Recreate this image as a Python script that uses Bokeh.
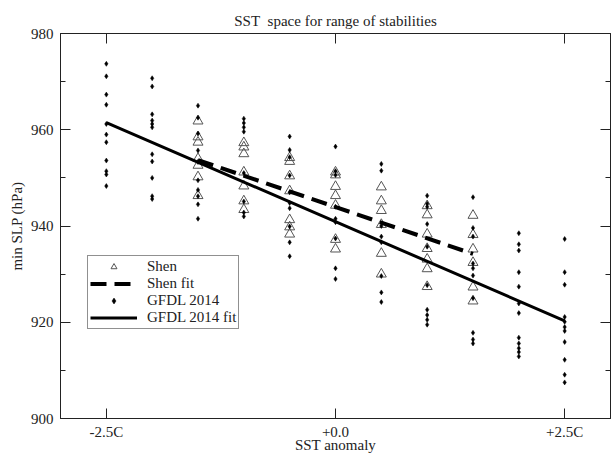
from bokeh.plotting import figure
from bokeh.models import Range1d, LinearAxis, FixedTicker, Legend, LegendItem
from bokeh.embed import file_html
from bokeh.resources import INLINE

# ---------------- data ----------------
title_text = "SST\u00a0 space for range of stabilities"
x_label = "SST anomaly"
y_label = "min SLP (hPa)"
x_tick_values = [-2.5, 0.0, 2.5]
x_tick_labels = ["-2.5C", "+0.0", "+2.5C"]
y_tick_values = [900, 920, 940, 960, 980]
y_minor_values = [910, 930, 950, 970]

# GFDL 2014 values (min SLP, hPa) per SST anomaly column
gfdl_m25 = [973.7, 971.1, 967.3, 965.2, 961.2, 959.0, 957.4, 953.6, 951.4, 950.7, 948.3]
gfdl_m20 = [970.7, 969.0, 963.2, 961.9, 961.2, 960.5, 954.9, 953.4, 950.0, 946.2, 945.6]
gfdl_m15 = [965.0, 962.5, 959.2, 955.7, 953.3, 949.5, 947.5, 946.2, 944.5, 941.5]
gfdl_m10 = [962.3, 961.4, 960.5, 959.6, 951.0, 945.1, 942.8, 942.0]
gfdl_m05 = [958.6, 955.8, 954.3, 950.5, 947.0, 944.8, 943.7, 939.9, 936.6, 933.7]
gfdl_p00 = [956.5, 951.4, 950.6, 944.0, 941.5, 940.8, 937.4, 931.2, 929.0]
gfdl_p05 = [952.9, 951.5, 940.0, 937.8, 936.6, 929.6, 926.2, 924.2]
gfdl_p10 = [946.3, 944.6, 944.0, 940.4, 935.7, 927.7, 922.6, 921.5, 920.5, 919.5]
gfdl_p15 = [946.0, 939.6, 937.8, 932.2, 931.2, 929.7, 925.0, 917.8, 916.4, 915.6]
gfdl_p20 = [938.5, 936.2, 934.9, 930.4, 927.4, 923.9, 921.9, 916.8, 915.6, 914.6, 913.8, 912.9]
gfdl_p25 = [937.3, 930.4, 927.8, 921.1, 920.1, 919.0, 918.2, 915.9, 912.2, 909.1, 907.5]

# Shen values per SST anomaly column
shen_m15 = [961.8, 958.5, 957.4, 954.0, 952.6, 950.2, 946.3]
shen_m10 = [957.3, 956.4, 955.0, 951.2, 948.3, 945.2, 943.4]
shen_m05 = [954.2, 953.4, 950.4, 947.3, 941.3, 939.8, 938.3]
shen_p00 = [951.2, 950.6, 948.2, 946.3, 944.3, 937.2, 935.2]
shen_p05 = [948.1, 945.2, 943.2, 940.3, 934.3, 930.0]
shen_p10 = [944.2, 942.3, 938.3, 935.3, 933.1, 931.1, 927.4]
shen_p15 = [942.2, 938.2, 935.2, 932.4, 927.3, 924.4]

gfdl_columns = [(-2.5, gfdl_m25), (-2.0, gfdl_m20), (-1.5, gfdl_m15), (-1.0, gfdl_m10),
                (-0.5, gfdl_m05), (0.0, gfdl_p00), (0.5, gfdl_p05), (1.0, gfdl_p10),
                (1.5, gfdl_p15), (2.0, gfdl_p20), (2.5, gfdl_p25)]
shen_columns = [(-1.5, shen_m15), (-1.0, shen_m10), (-0.5, shen_m05), (0.0, shen_p00),
                (0.5, shen_p05), (1.0, shen_p10), (1.5, shen_p15)]

# linear fits (end points)
shen_fit_x = [-1.5, 1.5]
shen_fit_y = [953.7, 934.2]
gfdl_fit_x = [-2.5, 2.5]
gfdl_fit_y = [961.5, 920.3]

# ---------------- figure ----------------
FONT = "Liberation Serif"
INK = "#222222"

p = figure(width=612, height=455, x_range=Range1d(-3, 3), y_range=Range1d(900, 980),
           output_backend="svg", toolbar_location=None,
           min_border_left=60, min_border_right=2, min_border_top=33, min_border_bottom=37)
p.grid.visible = False
p.outline_line_color = INK
p.background_fill_color = "white"
p.border_fill_color = "white"

p.title.text = title_text
p.title.align = "center"
p.title.text_font = FONT
p.title.text_font_size = "15px"
p.title.text_font_style = "normal"
p.title.text_color = INK
p.title.offset = 0

xt = FixedTicker(ticks=x_tick_values, minor_ticks=[])
yt = FixedTicker(ticks=y_tick_values, minor_ticks=y_minor_values)

xa = p.xaxis[0]
xa.ticker = xt
xa.major_label_overrides = {v: l for v, l in zip(x_tick_values, x_tick_labels)}
xa.axis_label = x_label
ya = p.yaxis[0]
ya.ticker = yt
ya.axis_label = y_label

for ax in (xa, ya):
    ax.axis_label_text_font = FONT
    ax.axis_label_text_font_size = "15px"
    ax.axis_label_text_font_style = "normal"
    ax.axis_label_text_color = INK
    ax.major_label_text_font = FONT
    ax.major_label_text_font_size = "15px"
    ax.major_label_text_color = INK
    ax.axis_line_color = INK
    ax.major_tick_line_color = INK
    ax.minor_tick_line_color = INK
    ax.major_tick_in = 10
    ax.major_tick_out = 0
    ax.minor_tick_in = 5
    ax.minor_tick_out = 0
xa.major_label_standoff = 5
xa.axis_label_standoff = -6
ya.major_label_standoff = 7
ya.axis_label_standoff = 3

for ticker, side in ((yt, "right"), (xt, "above")):
    ax = LinearAxis(ticker=ticker, major_label_text_font_size="1px", major_label_text_color=None,
                    major_label_standoff=0,
                    axis_line_color=INK, major_tick_line_color=INK, minor_tick_line_color=INK,
                    major_tick_in=10, major_tick_out=0, minor_tick_in=5, minor_tick_out=0)
    p.add_layout(ax, side)

# ---------------- glyphs ----------------
shen_x = [c for c, vals in shen_columns for _ in vals]
shen_y = [v for c, vals in shen_columns for v in vals]
gfdl_x = [c for c, vals in gfdl_columns for _ in vals]
gfdl_y = [v for c, vals in gfdl_columns for v in vals]

r_shen = p.scatter(shen_x, shen_y, marker="triangle", size=10, fill_color=None,
                   line_color="#555555", line_width=1)
r_gfdl = p.scatter(gfdl_x, gfdl_y, marker="diamond", size=5, fill_color="black",
                   line_color="black", line_width=0.5)
r_shen_fit = p.line(shen_fit_x, shen_fit_y, line_color="black", line_width=4, line_dash="16 8")
r_gfdl_fit = p.line(gfdl_fit_x, gfdl_fit_y, line_color="black", line_width=3)

legend = Legend(items=[LegendItem(label="Shen", renderers=[r_shen]),
                       LegendItem(label="Shen fit", renderers=[r_shen_fit]),
                       LegendItem(label="GFDL 2014", renderers=[r_gfdl]),
                       LegendItem(label="GFDL 2014 fit", renderers=[r_gfdl_fit])],
                location=(27, 89))
legend.label_text_font = FONT
legend.label_text_font_size = "15px"
legend.label_text_line_height = 1.0
legend.label_text_color = INK
legend.border_line_color = INK
legend.border_line_width = 1
legend.background_fill_alpha = 1
legend.glyph_width = 47
legend.glyph_height = 15
legend.label_height = 15
legend.label_standoff = 10
legend.spacing = 0
legend.padding = 2
legend.margin = 0
p.add_layout(legend, "center")

open("out.html", "w").write(file_html(p, INLINE))
